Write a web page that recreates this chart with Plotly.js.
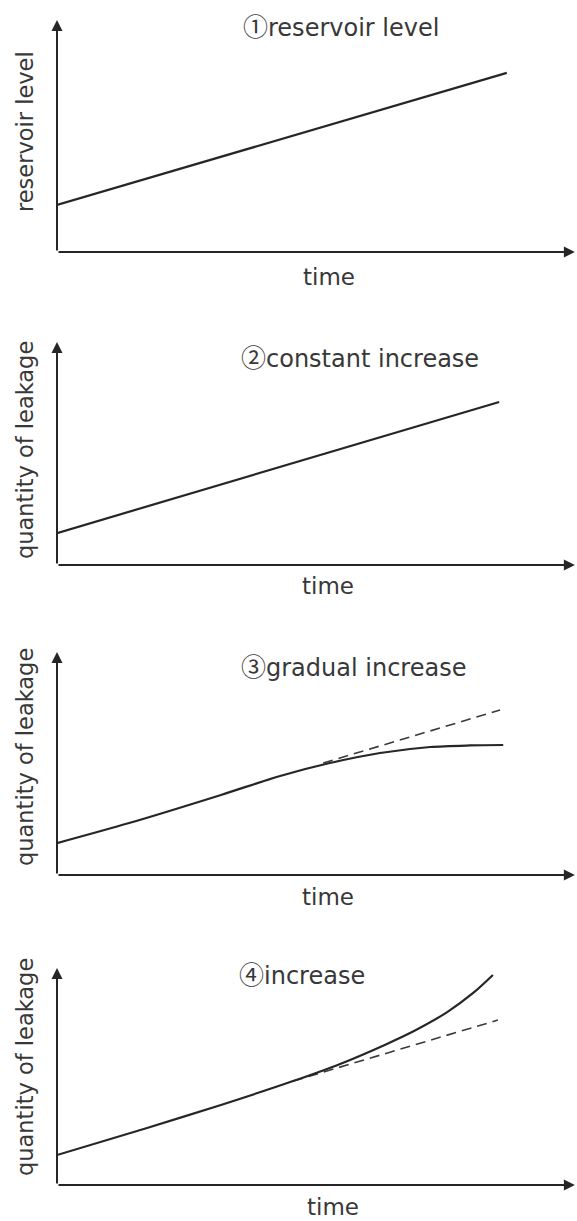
<!DOCTYPE html>
<html>
<head>
<meta charset="utf-8">
<script src="https://cdn.plot.ly/plotly-3.0.1.min.js"></script>
<style>html,body{margin:0;padding:0;background:#fff;}#chart{width:577px;height:1221px;}</style>
</head>
<body>
<div id="chart"></div>
<script>
// ---- data ----
const panelMarks = ['①', '②', '③', '④'];
const panelTitles = ['reservoir level', 'constant increase', 'gradual increase', 'increase'];
const yLabels = ['reservoir level', 'quantity of leakage', 'quantity of leakage', 'quantity of leakage'];
const xLabel = 'time';

const timeP1 = [0, 10.04];
const levelP1 = [2.03, 7.72];

const timeP2 = [0, 9.87];
const leakP2 = [1.43, 7.31];

const timeP3 = [0, 1.61, 3.66, 4.98, 6.09, 7.21, 8.33, 9.22, 9.96];
const leakP3 = [1.43, 2.33, 3.59, 4.44, 5.02, 5.47, 5.74, 5.81, 5.83];
const trendTimeP3 = [5.94, 9.89];
const trendP3 = [5.02, 7.40];

const timeP4 = [0, 2.01, 3.66, 5.27, 6.32, 7.34, 7.99, 8.71, 9.29, 9.73];
const leakP4 = [1.38, 2.63, 3.69, 4.79, 5.58, 6.48, 7.12, 7.97, 8.85, 9.68];
const trendTimeP4 = [5.27, 9.84];
const trendP4 = [4.79, 7.60];

// ---- layout helpers ----
const W = 577, H = 1221;
const px = x => x / W;
const py = y => 1 - y / H;
const axisLeft = 57;
const xMax = 11.607;
const xTip = 11.56;
const yTop = 10;
// pixel rows: [x-axis baseline, arrow tip]
const panelRows = [[252, 20], [565, 342], [875, 652], [1185, 968]];
const titlePos = [[241, 25], [239, 356], [239, 665], [237, 973]];
const timePos = [[329, 277], [328, 586], [328, 897], [333, 1207]];
const yLabPos = [[25, 132], [25, 450], [25, 757], [25, 1067]];

const ink = '#262626';
const textInk = '#383838';
const family = 'DejaVu Sans, Noto Sans CJK JP, sans-serif';
const titleFont = {family: family, size: 24, color: textInk};
const timeFont = {family: family, size: 23, color: textInk};
const yFont = {family: family, size: 22.5, color: textInk};

const solid = {color: ink, width: 2.2};
const dashed = {color: '#3a3a3a', width: 1.6, dash: '10px,6px'};

const traces = [
  {x: timeP1, y: levelP1, xaxis: 'x', yaxis: 'y', mode: 'lines', line: solid},
  {x: timeP2, y: leakP2, xaxis: 'x2', yaxis: 'y2', mode: 'lines', line: solid},
  {x: trendTimeP3, y: trendP3, xaxis: 'x3', yaxis: 'y3', mode: 'lines', line: dashed},
  {x: timeP3, y: leakP3, xaxis: 'x3', yaxis: 'y3', mode: 'lines', line: Object.assign({shape: 'spline', smoothing: 0.8}, solid)},
  {x: trendTimeP4, y: trendP4, xaxis: 'x4', yaxis: 'y4', mode: 'lines', line: dashed},
  {x: timeP4, y: leakP4, xaxis: 'x4', yaxis: 'y4', mode: 'lines', line: Object.assign({shape: 'spline', smoothing: 0.8}, solid)}
];

const layout = {
  width: W, height: H,
  margin: {l: 0, r: 0, t: 0, b: 0},
  paper_bgcolor: '#ffffff', plot_bgcolor: 'rgba(0,0,0,0)',
  showlegend: false,
  annotations: []
};

const hidden = {showgrid: false, zeroline: false, showline: false, showticklabels: false, ticks: '', fixedrange: true};

panelRows.forEach((row, i) => {
  const n = i === 0 ? '' : String(i + 1);
  const xId = 'x' + n, yId = 'y' + n;
  layout['xaxis' + n] = Object.assign({domain: [px(axisLeft), 1], range: [0, xMax], anchor: yId}, hidden);
  layout['yaxis' + n] = Object.assign({domain: [py(row[0]), py(row[1])], range: [0, yTop], anchor: xId}, hidden);
  // axis arrows
  layout.annotations.push({
    xref: xId, yref: yId, axref: xId, ayref: yId,
    x: xTip, y: 0, ax: 0, ay: 0, text: '', showarrow: true,
    arrowhead: 2, arrowsize: 1.1, arrowwidth: 2, arrowcolor: ink
  });
  layout.annotations.push({
    xref: xId, yref: yId, axref: xId, ayref: yId,
    x: 0, y: yTop, ax: 0, ay: 0, text: '', showarrow: true,
    arrowhead: 2, arrowsize: 1.1, arrowwidth: 2, arrowcolor: ink
  });
  // texts
  const titleText = '<span style="font-family:Noto Sans CJK JP;font-size:25px">' + panelMarks[i] + '</span>' + panelTitles[i];
  layout.annotations.push({xref: 'paper', yref: 'paper', x: px(titlePos[i][0]), y: py(titlePos[i][1]),
    text: titleText, showarrow: false, font: titleFont, xanchor: 'left', yanchor: 'middle'});
  layout.annotations.push({xref: 'paper', yref: 'paper', x: px(timePos[i][0]), y: py(timePos[i][1]),
    text: xLabel, showarrow: false, font: timeFont, xanchor: 'center', yanchor: 'middle'});
  layout.annotations.push({xref: 'paper', yref: 'paper', x: px(yLabPos[i][0]), y: py(yLabPos[i][1]),
    text: yLabels[i], showarrow: false, font: yFont, textangle: -90, xanchor: 'center', yanchor: 'middle'});
});

Plotly.newPlot('chart', traces, layout, {staticPlot: true, displayModeBar: false});
</script>
</body>
</html>
